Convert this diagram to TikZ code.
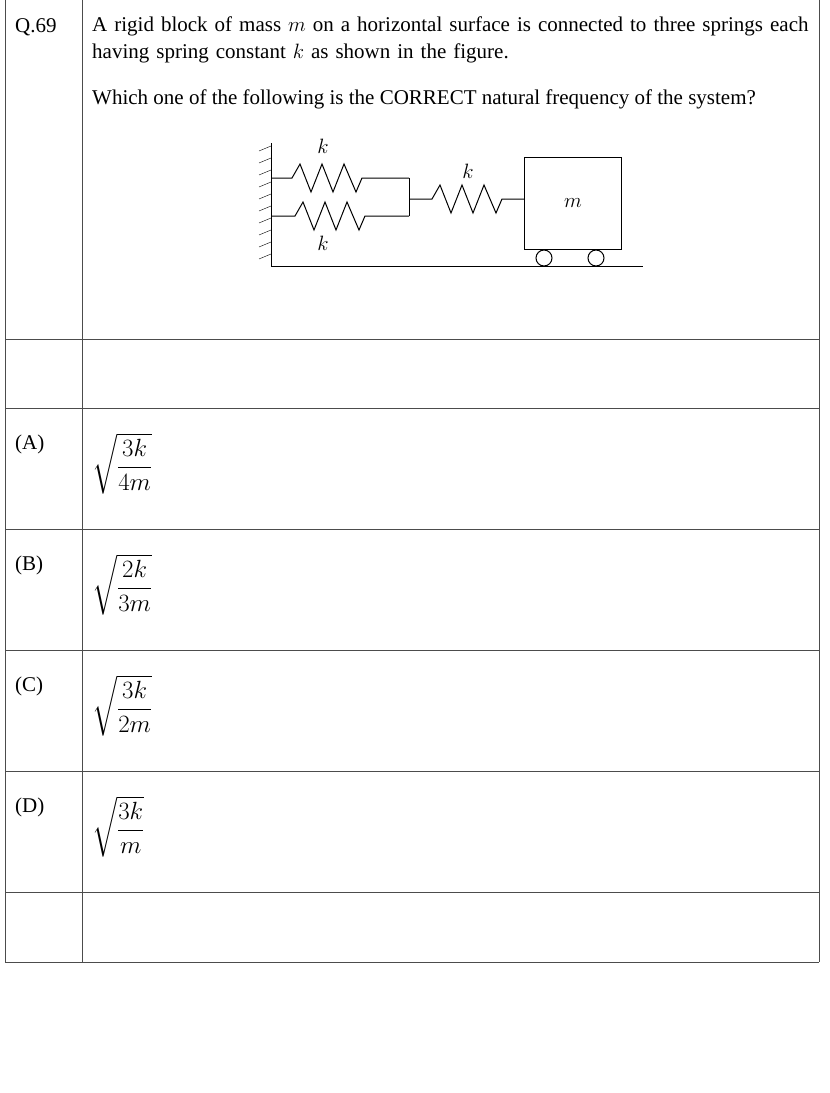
\documentclass[tikz,border=0pt]{standalone}
\usepackage{amsmath}
\usepackage{fontspec}
\setmainfont{Liberation Serif}
\begin{document}
\begin{tikzpicture}[x=1pt,y=-1pt]
  \tikzset{rule/.style = {draw=black!70, line width=0.8pt}}
  \tikzset{txt/.style = {anchor=north west, inner sep=0pt, font=\fontsize{21}{27}\selectfont}}
  \tikzset{lbl/.style = {inner sep=0pt, font=\fontsize{20}{20}\selectfont}}
  \tikzset{mech/.style = {line width=1pt}}
  \useasboundingbox (0,0) rectangle (830,1093);

  % table frame
  \draw[rule] (5,0) -- (5,962);
  \draw[rule] (82,0) -- (82,962);
  \draw[rule] (819,0) -- (819,962);
  \foreach \y in {339,408,529,650,771,892,962}
    \draw[rule] (5,\y) -- (819,\y);

  % question text
  \node[txt] (qno) at (15,18) {Q.69};
  \node[txt, text width=718pt] (qtext) at (92,17) {A rigid block of mass $m$ on a horizontal surface is connected to three springs each having spring constant $k$ as shown in the figure.};
  \node[txt] (qask) at (92,90) {Which one of the following is the CORRECT natural frequency of the system?};

  % wall and ground
  \coordinate (wtop) at (271,143);
  \coordinate (wbot) at (271,266);
  \coordinate (gend) at (643,266);
  \draw[mech] (wtop) -- (wbot) -- (gend);
  \foreach \y in {146,158,...,262}
    \draw (271,\y) -- (259,\y+5);

  % parallel springs
  \draw[mech] (271,178) -- (292,178) -- (300,164) -- (311,192) -- (322,164) -- (333,192) -- (344,164) -- (356,192) -- (362,178) -- (409,178);
  \draw[mech] (271,216) -- (295,216) -- (303,202) -- (314,230) -- (325,202) -- (336,230) -- (347,202) -- (359,230) -- (365,216) -- (409,216);
  \draw[mech] (409,178) -- (409,216);
  % series spring
  \draw[mech] (409,199) -- (432,199) -- (440,185) -- (451,213) -- (462,185) -- (473,213) -- (484,185) -- (496,213) -- (502,199) -- (524,199);

  % block and wheels
  \node[draw, line width=1pt, minimum width=97pt, minimum height=92pt, anchor=north west] (block) at (524,157) {};
  \node[lbl] (mlbl) at (block.center) {$m$};
  \draw[mech] (544,258) circle (8);
  \draw[mech] (596,258) circle (8);

  \node[lbl] (k1) at (323,146) {$k$};
  \node[lbl] (k2) at (323,243) {$k$};
  \node[lbl] (k3) at (468,171) {$k$};

  % options
  \foreach \y/\o/\n/\d in {435/A/3k/4m, 556/B/2k/3m, 677/C/3k/2m, 798/D/3k/m}{
    \node[txt] (opt\o) at (15,\y) {(\o)};
    \node[txt, font=\fontsize{23}{27}\selectfont] (ans\o) at (92,\y-2) {$\sqrt{\dfrac{\n}{\d}}$};
  }
\end{tikzpicture}
\end{document}
